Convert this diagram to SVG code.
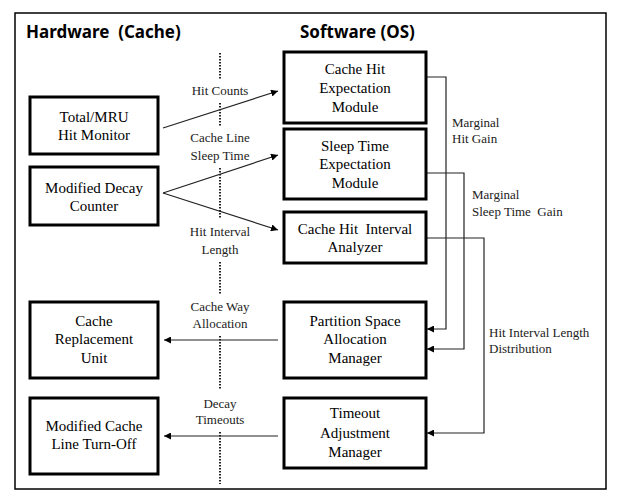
<svg xmlns="http://www.w3.org/2000/svg" width="619" height="500" viewBox="0 0 619 500">
<defs>
<marker id="ah" viewBox="0 0 10 10" refX="10" refY="5" markerWidth="7" markerHeight="7" markerUnits="userSpaceOnUse" orient="auto">
<path d="M0,0 L10,5 L0,10 z" fill="#000"/>
</marker>
<style>
.box{fill:#fff;stroke:#000;stroke-width:3}
.bt{font-family:"Liberation Serif","Times New Roman",serif;font-size:15px;fill:#000;text-anchor:middle}
.lt{font-family:"Liberation Serif","Times New Roman",serif;font-size:13px;fill:#222}
.ltc{text-anchor:middle}
.title{font-family:"Noto Sans","Open Sans",sans-serif;font-weight:bold;font-size:17px;fill:#000}
.c{fill:none;stroke:#222;stroke-width:1.2}
.dot{stroke:#222;stroke-width:2;stroke-dasharray:1.5 1.5;fill:none}
</style>
</defs>
<rect width="619" height="500" fill="#fff"/>
<rect x="15" y="13" width="591" height="476" fill="none" stroke="#000" stroke-width="1.5"/>
<text class="title" x="26" y="38" xml:space="preserve">Hardware  (Cache)</text>
<text class="title" x="300" y="38">Software (OS)</text>

<g id="divider">
<path class="dot" d="M220,53 V79 M220,103 V126 M220,168 V218 M220,262 V295 M220,336 V390 M220,432 V484"/>
</g>

<g id="connectors">
<line class="c" x1="163" y1="128" x2="278" y2="91" marker-end="url(#ah)"/>
<line class="c" x1="163" y1="193" x2="278" y2="155" marker-end="url(#ah)"/>
<line class="c" x1="163" y1="193" x2="278" y2="230" marker-end="url(#ah)"/>
<line class="c" x1="278" y1="340" x2="164" y2="340" marker-end="url(#ah)"/>
<line class="c" x1="278" y1="436" x2="164" y2="436" marker-end="url(#ah)"/>
<polyline class="c" points="426,77 446,77 446,329 427,329" marker-end="url(#ah)"/>
<polyline class="c" points="426,173 464,173 464,349 427,349" marker-end="url(#ah)"/>
<polyline class="c" points="426,238 484,238 484,433 427,433" marker-end="url(#ah)"/>
<text class="lt ltc" x="220" y="95">Hit Counts</text>
<text class="lt ltc" x="220" y="142">Cache Line</text>
<text class="lt ltc" x="220" y="160">Sleep Time</text>
<text class="lt ltc" x="220" y="236">Hit Interval</text>
<text class="lt ltc" x="220" y="254">Length</text>
<text class="lt ltc" x="220" y="311">Cache Way</text>
<text class="lt ltc" x="220" y="328">Allocation</text>
<text class="lt ltc" x="220" y="408">Decay</text>
<text class="lt ltc" x="220" y="424">Timeouts</text>
<text class="lt" x="452" y="127">Marginal</text>
<text class="lt" x="452" y="143">Hit Gain</text>
<text class="lt" x="472" y="199">Marginal</text>
<text class="lt" x="472" y="216" xml:space="preserve">Sleep Time  Gain</text>
<text class="lt" x="489" y="337">Hit Interval Length</text>
<text class="lt" x="489" y="353">Distribution</text>
</g>

<g id="total-mru">
<rect class="box" x="30" y="97" width="128" height="57"/>
<text class="bt" x="94" y="122">Total/MRU</text>
<text class="bt" x="94" y="140">Hit Monitor</text>
</g>
<g id="decay-counter">
<rect class="box" x="30" y="167" width="128" height="58"/>
<text class="bt" x="94" y="193">Modified Decay</text>
<text class="bt" x="94" y="211">Counter</text>
</g>
<g id="replacement-unit">
<rect class="box" x="30" y="302" width="128" height="76"/>
<text class="bt" x="94" y="326">Cache</text>
<text class="bt" x="94" y="344">Replacement</text>
<text class="bt" x="94" y="363">Unit</text>
</g>
<g id="turn-off">
<rect class="box" x="30" y="398" width="128" height="76"/>
<text class="bt" x="94" y="431">Modified Cache</text>
<text class="bt" x="94" y="449">Line Turn-Off</text>
</g>
<g id="hit-expectation">
<rect class="box" x="284" y="52" width="142" height="71"/>
<text class="bt" x="355" y="74">Cache Hit</text>
<text class="bt" x="355" y="93">Expectation</text>
<text class="bt" x="355" y="112">Module</text>
</g>
<g id="sleep-expectation">
<rect class="box" x="284" y="129" width="142" height="70"/>
<text class="bt" x="355" y="151">Sleep Time</text>
<text class="bt" x="355" y="169">Expectation</text>
<text class="bt" x="355" y="188">Module</text>
</g>
<g id="interval-analyzer">
<rect class="box" x="284" y="212" width="142" height="51"/>
<text class="bt" x="355" y="234" xml:space="preserve">Cache Hit  Interval</text>
<text class="bt" x="355" y="252">Analyzer</text>
</g>
<g id="partition-manager">
<rect class="box" x="284" y="302" width="142" height="76"/>
<text class="bt" x="355" y="326">Partition Space</text>
<text class="bt" x="355" y="344">Allocation</text>
<text class="bt" x="355" y="363">Manager</text>
</g>
<g id="timeout-manager">
<rect class="box" x="284" y="398" width="142" height="70"/>
<text class="bt" x="355" y="418">Timeout</text>
<text class="bt" x="355" y="438">Adjustment</text>
<text class="bt" x="355" y="457">Manager</text>
</g>
</svg>
